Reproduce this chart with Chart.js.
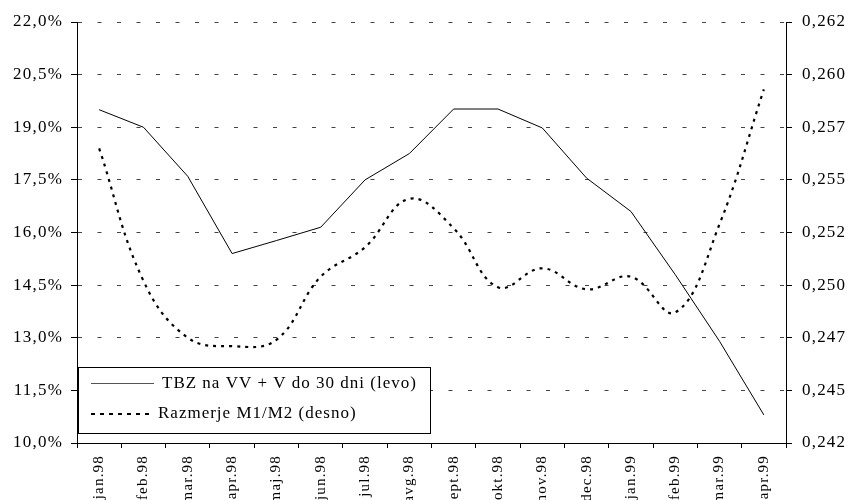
<!DOCTYPE html>
<html>
<head>
<meta charset="utf-8">
<script src="https://cdn.jsdelivr.net/npm/chart.js@4/dist/chart.umd.min.js"></script>
<style>
  html, body { margin: 0; padding: 0; background: #fff; overflow: hidden; }
  #wrap { width: 848px; height: 520px; }
</style>
</head>
<body>
<div id="wrap"><canvas id="grafico" width="848" height="520"></canvas></div>
<script>
// Podatki
const meseci = ['jan.98', 'feb.98', 'mar.98', 'apr.98', 'maj.98', 'jun.98', 'jul.98', 'avg.98',
  'sept.98', 'okt.98', 'nov.98', 'dec.98', 'jan.99', 'feb.99', 'mar.99', 'apr.99'];
const tbz = [19.5, 19.0, 17.6, 15.4, 15.77, 16.15, 17.5, 18.25,
  19.52, 19.52, 18.98, 17.55, 16.6, 14.8, 12.9, 10.8];
const razmerje = [0.2560, 0.2497, 0.2470, 0.2466, 0.2469, 0.2499, 0.2513, 0.2536,
  0.2522, 0.2494, 0.2503, 0.2493, 0.2499, 0.2482, 0.2524, 0.2588];
const levoTicks = { min: 10, max: 22, korak: 1.5 };
const desnoTicks = { min: 0.242, max: 0.262, korak: 0.0025 };
const legenda = ['TBZ na VV + V do 30 dni (levo)', 'Razmerje M1/M2 (desno)'];

const pisava = 'Liberation Serif, Times New Roman, serif';
Chart.defaults.color = '#000';
Chart.defaults.font.family = pisava;

// Legenda v spodnjem levem kotu
const legendaPlugin = {
  id: 'legendaPlugin',
  beforeDraw(chart) {
    chart.ctx.letterSpacing = '1.2px';
  },
  afterDraw(chart) {
    const ctx = chart.ctx;
    const ca = chart.chartArea;
    const x = ca.left + 1, y = 367, w = 352, h = 66;
    ctx.save();
    ctx.fillStyle = '#fff';
    ctx.fillRect(x, y, w, h);
    ctx.strokeStyle = '#000';
    ctx.lineWidth = 1;
    ctx.strokeRect(x + 0.5, y + 0.5, w, h);
    // vzorec 1
    ctx.beginPath();
    ctx.strokeStyle = '#555';
    ctx.lineWidth = 1.2;
    ctx.moveTo(x + 13, 383.5);
    ctx.lineTo(x + 76, 383.5);
    ctx.stroke();
    // vzorec 2
    ctx.beginPath();
    ctx.strokeStyle = '#000';
    ctx.lineWidth = 2;
    ctx.setLineDash([4, 5]);
    ctx.moveTo(x + 13, 414);
    ctx.lineTo(x + 76, 414);
    ctx.stroke();
    ctx.setLineDash([]);
    ctx.fillStyle = '#000';
    ctx.font = '17px ' + pisava;
    ctx.textBaseline = 'middle';
    ctx.letterSpacing = '1px';
    ctx.fillText(legenda[0], x + 84, 384);
    ctx.fillText(legenda[1], x + 80, 414);
    ctx.restore();
  }
};

function inicializirajGraf() {
  const ctx = document.getElementById('grafico').getContext('2d');
  new Chart(ctx, {
    type: 'line',
    data: {
      labels: meseci,
      datasets: [{
        label: legenda[0],
        data: tbz,
        yAxisID: 'y',
        borderColor: '#000',
        borderWidth: 1,
        pointRadius: 0,
        tension: 0,
        fill: false
      }, {
        label: legenda[1],
        data: razmerje,
        yAxisID: 'y1',
        borderColor: '#000',
        borderWidth: 2.2,
        borderDash: [3, 5],
        pointRadius: 0,
        tension: 0.4,
        fill: false
      }]
    },
    options: {
      responsive: false,
      animation: false,
      devicePixelRatio: 1,
      layout: { padding: { top: 22, left: 0, right: 0, bottom: 0 } },
      plugins: {
        legend: { display: false },
        tooltip: { enabled: false }
      },
      scales: {
        x: {
          offset: true,
          grid: { offset: true, drawOnChartArea: false, drawTicks: true, tickLength: 5, color: '#000' },
          border: { display: true, color: '#000', width: 1 },
          ticks: {
            autoSkip: false,
            maxRotation: 90,
            minRotation: 90,
            padding: 7,
            font: { size: 15, family: pisava }
          },
          afterFit(s) { s.height = 77; }
        },
        y: {
          position: 'left',
          min: levoTicks.min,
          max: levoTicks.max,
          grid: { color: '#444', lineWidth: 1, tickLength: 6, tickColor: '#000' },
          border: { display: true, color: '#000', width: 1, dash: [4, 15.5] },
          ticks: {
            stepSize: levoTicks.korak,
            padding: 8,
            font: { size: 17, family: pisava },
            callback: v => v.toFixed(1).replace('.', ',') + '%'
          },
          afterFit(s) { s.width = 77; }
        },
        y1: {
          position: 'right',
          min: desnoTicks.min,
          max: desnoTicks.max,
          grid: { drawOnChartArea: false, tickLength: 6, color: '#000' },
          border: { display: true, color: '#000', width: 1 },
          ticks: {
            stepSize: desnoTicks.korak,
            padding: 10,
            font: { size: 17, family: pisava },
            callback: v => (Math.round(v * 1000 + 1e-6) / 1000).toFixed(3).replace('.', ',')
          },
          afterFit(s) { s.width = 62; }
        }
      }
    },
    plugins: [legendaPlugin]
  });
}

document.addEventListener('DOMContentLoaded', inicializirajGraf);
</script>
</body>
</html>
